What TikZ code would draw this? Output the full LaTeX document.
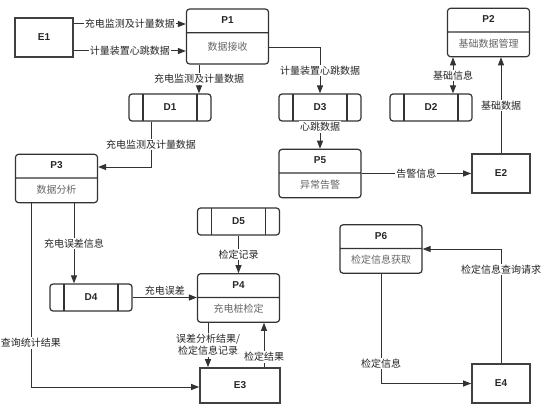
\documentclass[tikz,border=0pt]{standalone}
\usepackage{fontspec}
\setmainfont{Liberation Sans}
\newfontfamily\cjk{Noto Sans CJK SC}
\usepackage{tikz}
\usetikzlibrary{arrows.meta,shapes.multipart}
\newcommand{\pstrut}{\rule[-2.5pt]{0pt}{10pt}}
\newcommand{\ttl}[1]{{\normalfont\bfseries #1}}
\newcommand{\prc}[2]{\pstrut\ttl{#1}\nodepart{two}\pstrut\textcolor{black!60}{#2}}

\begin{document}
\begin{tikzpicture}[
  x=1pt, y=-1pt,
  every node/.style={font=\cjk\fontsize{10}{12}\selectfont, text=black!85},
  proc/.style={rectangle split, rectangle split parts=2, draw=black!80,
               line width=1.2pt, rounded corners=3pt, text width=72pt,
               align=center, inner xsep=5pt, inner ysep=6.25pt},
  store/.style={draw=black!80, line width=1.2pt, rounded corners=3pt,
                minimum width=82pt, minimum height=27pt, inner sep=0pt,
                path picture={
                  \draw[black!80, line width=1.2pt]
                    ([xshift=14pt]path picture bounding box.north west) --
                    ([xshift=14pt]path picture bounding box.south west)
                    ([xshift=-14pt]path picture bounding box.north east) --
                    ([xshift=-14pt]path picture bounding box.south east);}},
  ent/.style={draw=black!75, line width=1.6pt, minimum width=58pt,
              minimum height=39pt, inner sep=0pt},
  lbl/.style={fill=white, inner sep=1pt},
  arr/.style={-{Triangle[length=8pt,width=6pt]}, line width=1pt, black!80},
  dbl/.style={{Triangle[length=8pt,width=6pt]}-{Triangle[length=8pt,width=6pt]},
              line width=1pt, black!80}
]
  \useasboundingbox (0,0) rectangle (544,412);

  % external entities
  \node[ent] (e1) at (44,37.5) {\ttl{E1}};
  \node[ent] (e2) at (501,173.5) {\ttl{E2}};
  \node[ent, minimum width=80pt, minimum height=35pt] (e3) at (240,385.5) {\ttl{E3}};
  \node[ent] (e4) at (501,383.5) {\ttl{E4}};

  % processes
  \node[proc] (p1) at (227.5,36.5)
    {\pstrut\ttl{P1}\nodepart{two}\rule[-6.25pt]{0pt}{17.5pt}\textcolor{black!60}{数据接收}};
  \node[proc] (p2) at (488.5,32.5) {\prc{P2}{基础数据管理}};
  \node[proc] (p3) at (56.5,178.5) {\prc{P3}{数据分析}};
  \node[proc] (p4) at (238.5,298) {\prc{P4}{充电桩检定}};
  \node[proc] (p5) at (320,173.5) {\prc{P5}{异常告警}};
  \node[proc] (p6) at (381,249) {\prc{P6}{检定信息获取}};

  % data stores
  \node[store] (d1) at (170,107.5) {\ttl{D1}};
  \node[store] (d2) at (431,107.5) {\ttl{D2}};
  \node[store] (d3) at (320,107.5) {\ttl{D3}};
  \node[store] (d4) at (91,297.5) {\ttl{D4}};
  \node[store] (d5) at (238.5,221.5) {\ttl{D5}};

  % data flows
  \draw[arr] (e1.east |- 0,24) -- node[lbl] {充电监测及计量数据} (p1.west |- 0,24);
  \draw[arr] (e1.east |- 0,51) -- node[lbl] {计量装置心跳数据} (p1.west |- 0,51);
  \draw[arr] (p1.south -| 199,0) -- node[lbl] {充电监测及计量数据} (d1.north -| 199,0);
  \draw[arr] (p1.east |- 0,48) -| node[lbl, pos=0.75] {计量装置心跳数据} (d3.north);
  \draw[arr] (d3) -- node[lbl, pos=0.2] {心跳数据} (p5);
  \draw[dbl] (d2.north -| 453,0) -- node[lbl] {基础信息} (p2.south -| 453,0);
  \draw[arr] (e2.north) -- node[lbl] {基础数据} (p2.south -| e2.north);
  \draw[arr] (p5) -- node[lbl] {告警信息} (e2);
  \draw[arr] (d1.south -| 151,0) |- node[lbl, pos=0.25] {充电监测及计量数据} (p3.east |- 0,167);
  \draw[arr] (p3.south -| 74,0) -- node[lbl] {充电误差信息} (d4.north -| 74,0);
  \draw[arr] (p3.south -| 31,0) |- node[lbl, pos=0.38] {查询统计结果} (e3.west |- 0,387);
  \draw[arr] (d4) -- node[above, inner sep=2pt] {充电误差} (p4.west |- d4);
  \draw[arr] (d5) -- node[lbl] {检定记录} (p4);
  \draw[arr] (p4.south -| 208,0) -- node[lbl, align=center] {误差分析结果/\\检定信息记录} (e3.north -| 208,0);
  \draw[arr] (e3.north -| 264,0) -- node[lbl, pos=0.23] {检定结果} (p4.south -| 264,0);
  \draw[arr] (e4.north) |- node[lbl, pos=0.41] {检定信息查询请求} (p6.east);
  \draw[arr] (p6.south) |- node[lbl, pos=0.41] {检定信息} (e4.west);
\end{tikzpicture}
\end{document}
